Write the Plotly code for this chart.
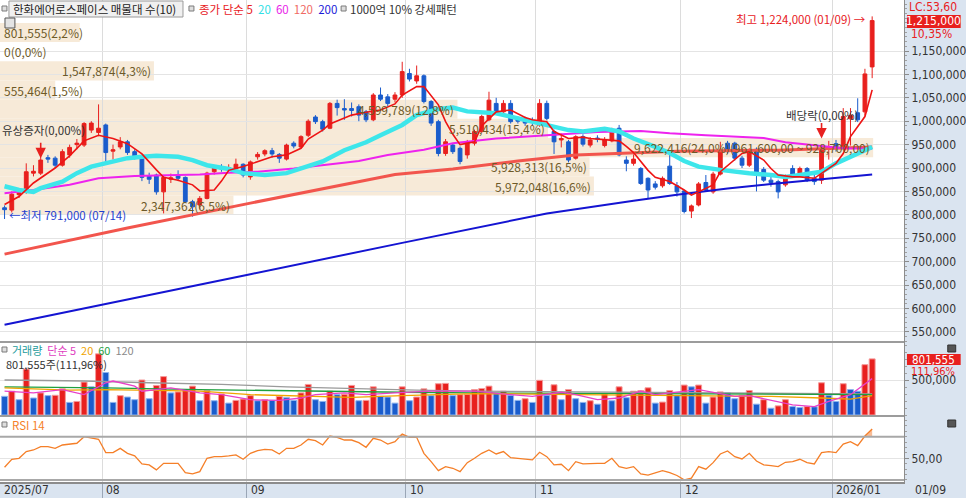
import plotly.graph_objects as go

# daily candles, index 0 = 2025/07/14 ... index 120 = 2026/01/09 (prices in thousand won)
opens = [815, 810, 843, 849, 889, 889, 922, 921, 906, 928,
         950, 949, 981, 976, 992, 936, 945, 956, 935, 924,
         883, 885, 849, 876, 885, 880, 828, 821, 835, 892,
         903, 897, 899, 908, 881, 924, 930, 937, 929, 919,
         953, 945, 970, 1009, 999, 985, 1038, 1027, 1027, 1031,
         1020, 1003, 1056, 1052, 1047, 1056, 1102, 1086, 1097, 1042,
         999, 931, 949, 942, 928, 953, 978, 1003, 1038, 1020,
         1038, 1006, 1006, 1001, 992, 1038, 978, 960, 956, 921,
         967, 949, 964, 948, 958, 985, 917, 910, 899, 878,
         866, 862, 904, 862, 851, 808, 821, 869, 849, 887,
         953, 953, 921, 906, 940, 897, 874, 871, 864, 899,
         889, 899, 878, 874, 940, 952, 945, 1005, 1018, 1020,
         1116]
highs = [820, 850, 853, 910, 906, 925, 928, 925, 940, 950,
         962, 998, 1000, 1036, 995, 950, 966, 960, 940, 928,
         890, 888, 885, 888, 895, 882, 832, 840, 892, 905,
         908, 908, 920, 910, 916, 934, 940, 943, 932, 952,
         957, 970, 1004, 1013, 1003, 1041, 1046, 1047, 1040, 1036,
         1024, 1060, 1072, 1058, 1062, 1127, 1112, 1119, 1100, 1045,
         1003, 962, 953, 946, 960, 982, 1014, 1063, 1050, 1045,
         1045, 1010, 1010, 1008, 1047, 1044, 982, 974, 960, 970,
         972, 966, 970, 966, 986, 992, 925, 929, 902, 880,
         872, 882, 931, 870, 853, 822, 870, 885, 892, 956,
         958, 956, 926, 942, 944, 902, 885, 875, 886, 906,
         903, 902, 888, 948, 958, 960, 1028, 1028, 1049, 1112,
         1224]
lows = [791, 805, 836, 845, 882, 885, 911, 900, 903, 922,
        940, 945, 975, 968, 908, 918, 940, 928, 918, 872,
        866, 843, 803, 868, 872, 825, 796, 812, 833, 886,
        892, 890, 895, 880, 875, 918, 925, 922, 911, 916,
        942, 942, 966, 994, 978, 983, 1012, 1003, 1010, 1000,
        998, 1000, 1043, 1032, 1040, 1050, 1085, 1080, 1038, 990,
        925, 926, 930, 908, 920, 948, 975, 1000, 1015, 1016,
        995, 995, 990, 990, 988, 1002, 930, 944, 912, 918,
        946, 944, 955, 944, 955, 925, 893, 905, 864, 835,
        854, 858, 864, 839, 803, 793, 818, 850, 845, 884,
        930, 916, 900, 902, 850, 870, 860, 835, 860, 880,
        885, 870, 864, 866, 918, 935, 942, 948, 998, 1012,
        1092]
closes = [811, 844, 847, 892, 893, 917, 919, 906, 935, 944,
          953, 995, 996, 985, 933, 939, 956, 933, 924, 880,
          876, 849, 880, 879, 878, 828, 817, 835, 889, 901,
          898, 901, 908, 885, 913, 929, 937, 930, 921, 949,
          947, 967, 1000, 999, 983, 1038, 1029, 1024, 1023, 1013,
          1003, 1056, 1047, 1038, 1056, 1106, 1090, 1097, 1042, 996,
          931, 956, 935, 914, 956, 978, 1010, 1045, 1020, 1038,
          999, 1000, 996, 999, 1038, 1006, 956, 963, 917, 967,
          951, 960, 962, 960, 981, 928, 910, 919, 867, 853,
          859, 878, 867, 849, 807, 819, 866, 853, 887, 935,
          935, 921, 906, 939, 889, 874, 869, 849, 882, 883,
          899, 874, 871, 942, 945, 943, 1010, 1012, 1003, 1101,
          1215]
# volume, thousand shares
volumes = [267, 340, 219, 656, 243, 316, 277, 282, 374, 180,
           194, 471, 403, 874, 607, 180, 277, 257, 219, 500,
           233, 423, 549, 316, 330, 364, 413, 204, 350, 204,
           301, 170, 209, 228, 277, 204, 219, 209, 267, 248,
           209, 316, 437, 219, 194, 340, 291, 296, 423, 204,
           209, 403, 267, 257, 170, 403, 204, 257, 374, 277,
           447, 452, 277, 291, 294, 364, 379, 413, 306, 340,
           282, 209, 233, 180, 496, 282, 432, 219, 364, 233,
           180, 204, 155, 301, 204, 403, 248, 340, 350, 389,
           170, 185, 350, 277, 428, 403, 428, 170, 257, 330,
           316, 233, 282, 350, 155, 219, 97, 131, 219, 121,
           107, 121, 118, 461, 282, 194, 447, 364, 340, 719,
           801.555]
rsi14 = [41.7, 49.1, 50.0, 56.2, 57.7, 60.8, 60.8, 59.2, 62.3, 63.2,
         63.9, 70.0, 68.5, 67.6, 55.3, 55.3, 59.2, 54.6, 52.2, 44.8,
         43.9, 39.3, 45.4, 45.4, 45.4, 36.8, 35.6, 37.7, 50.0, 51.5,
         51.5, 52.2, 53.1, 49.1, 54.6, 57.1, 58.3, 57.7, 54.0, 59.2,
         59.2, 62.3, 67.6, 66.3, 62.3, 70.6, 69.4, 66.9, 66.9, 64.5,
         60.2, 68.5, 66.9, 63.2, 65.4, 72.5, 69.4, 69.4, 54.6, 46.9,
         38.6, 42.3, 40.8, 37.7, 46.0, 50.0, 54.6, 57.7, 54.0, 56.2,
         50.6, 50.0, 49.1, 48.5, 55.6, 51.5, 43.9, 44.5, 38.6, 46.9,
         44.8, 45.4, 45.4, 45.4, 50.0, 42.3, 40.8, 42.3, 35.6, 34.4,
         36.2, 38.6, 36.8, 34.1, 30.1, 31.6, 42.3, 39.9, 46.0, 54.0,
         56.8, 51.5, 49.4, 54.6, 47.5, 43.9, 43.3, 42.3, 46.3, 46.9,
         49.1, 46.0, 44.8, 55.3, 56.2, 55.3, 63.2, 65.4, 61.7, 70.6,
         77.1]

# moving averages (index, thousand won)
ma5_x = [0, 1, 2, 4, 7, 9, 11, 13, 15, 17, 19, 21, 22, 24, 26, 27, 29, 30, 31, 33,
         35, 37, 39, 41, 42, 44, 45, 48, 50, 52, 54, 55, 57, 58, 60, 61, 62, 63, 65, 66,
         68, 70, 72, 73, 75, 76, 78, 80, 81, 83, 85, 86, 87, 89, 90, 92, 94, 95, 96, 98,
         99, 101, 102, 103, 105, 106, 107, 109, 110, 112, 113, 115, 116, 117, 119, 120]
ma5_y = [822, 830, 839, 868, 900, 926, 958, 970, 963, 952, 930, 896, 880, 874, 864, 851, 853, 872, 895, 903,
         914, 924, 928, 942, 962, 981, 994, 1013, 1019, 1024, 1037, 1056, 1074, 1074, 1035, 999, 972, 950, 956, 990,
         1020, 1024, 1008, 1003, 999, 978, 963, 966, 963, 960, 958, 946, 933, 895, 880, 871, 853, 842, 849, 864,
         892, 917, 931, 935, 917, 899, 885, 881, 881, 878, 889, 910, 931, 967, 1010, 1067]
ma20_x = [0, 2, 4, 5, 8, 10, 12, 15, 17, 19, 21, 24, 26, 28, 31, 33, 36, 39, 41, 44,
          47, 50, 52, 55, 57, 60, 62, 64, 68, 73, 75, 78, 80, 83, 85, 87, 90, 92, 94, 96,
          99, 101, 103, 106, 108, 110, 113, 115, 117, 120]
ma20_y = [861, 853, 849, 857, 871, 889, 903, 914, 921, 924, 926, 924, 917, 906, 898, 889, 885, 889, 899, 914,
          938, 955, 970, 992, 1013, 1026, 1029, 1021, 1017, 999, 992, 981, 978, 984, 978, 963, 945, 932, 915, 903,
          896, 892, 889, 885, 881, 885, 892, 910, 924, 945]
ma60_x = [0, 4, 9, 13, 18, 22, 27, 31, 35, 40, 44, 49, 53, 58, 62, 68, 75, 82, 88, 92,
          97, 101, 105, 108, 112, 116, 120]
ma60_y = [846, 853, 864, 878, 883, 885, 886, 890, 892, 899, 906, 915, 928, 939, 953, 963, 970, 977, 979, 974,
          970, 967, 964, 955, 948, 942, 941]
ma120_x = [0, 17, 34, 44, 54, 62, 71, 79, 93, 107, 120]
ma120_y = [716, 772, 825, 855, 886, 898, 915, 928, 936, 938, 945]
ma200_x = [0, 14, 34, 55, 75, 87, 93, 100, 106, 120]
ma200_y = [565, 610, 673, 740, 803, 830, 843, 856, 866, 886]

# volume moving averages (index, thousand shares)
vma5_x = [0, 4, 8, 11, 14, 15, 18, 19, 21, 23, 27, 30, 34, 38, 41, 43, 47, 50, 54, 59,
          63, 65, 70, 73, 77, 79, 82, 85, 88, 90, 96, 98, 101, 103, 107, 109, 112, 114, 117, 120]
vma5_y = [340, 316, 364, 291, 461, 486, 413, 340, 364, 389, 316, 291, 219, 209, 243, 291, 316, 291, 316, 340,
          340, 340, 291, 267, 325, 291, 219, 243, 340, 291, 364, 325, 267, 277, 194, 146, 121, 194, 291, 520]
vma20_x = [0, 9, 14, 27, 34, 41, 48, 55, 65, 79, 90, 106, 113, 117, 120]
vma20_y = [389, 355, 364, 340, 291, 267, 253, 277, 306, 291, 280, 265, 243, 228, 277]
vma60_x = [0, 14, 27, 41, 55, 65, 93, 120]
vma60_y = [403, 389, 364, 340, 325, 316, 301, 291]
vma120_x = [0, 11, 20, 30, 39, 48, 57, 65, 88, 120]
vma120_y = [500, 486, 461, 437, 403, 374, 355, 340, 325, 300]

# volume profile (매물대), top band first
band_mid = [1189.5, 1148.5, 1107.5, 1066.5, 1025.5, 984.5, 943.5, 902.5, 861.5, 820.5]
band_vol = [801555, 0, 1547874, 555464, 4599789, 5510434, 9622416, 5928313, 5972048, 2347362]
band_pct = [2.2, 0.0, 4.3, 1.5, 12.8, 15.4, 24.0, 16.5, 16.6, 6.5]
band_top_range = "(961,600.00 ~ 928,700.00)"

month_labels = ["2025/07", "08", "09", "10", "11", "12", "2026/01"]
month_start = [0, 14, 34, 56, 74, 94, 115]

K = 1000
n = len(closes)
x = list(range(n))

W, H = 966, 498
MR, MB = 57, 16
PW, PH = W - MR, H - MB


def fx(px):
    return px / PW


def fy(py):
    return 1 - py / PH


UP, DOWN = "#e8201e", "#1a5ccc"
KR = "Noto Sans CJK KR"
NUM = "Liberation Sans Narrow, DejaVu Sans Condensed, sans-serif"
SLOT = 7.27  # pixels per candle
XMIN, XMAX = -0.63, -0.63 + PW / SLOT

fig = go.Figure()

# price moving averages (under the candles)
for xs, ys, col, w in [(ma200_x, ma200_y, "#1414d2", 2),
                       (ma120_x, ma120_y, "#f2554d", 3),
                       (ma60_x, ma60_y, "#ee22ee", 2),
                       (ma20_x, ma20_y, "#3de6ea", 4.5),
                       (ma5_x, ma5_y, "#ee1414", 1.6)]:
    fig.add_trace(go.Scatter(x=xs, y=[v * K for v in ys], mode="lines",
                             line=dict(color=col, width=w), hoverinfo="skip"))

fig.add_trace(go.Candlestick(
    x=x, open=[v * K for v in opens], high=[v * K for v in highs],
    low=[v * K for v in lows], close=[v * K for v in closes],
    increasing=dict(line=dict(color=UP, width=1), fillcolor=UP),
    decreasing=dict(line=dict(color=DOWN, width=1), fillcolor=DOWN),
    whiskerwidth=0, hoverinfo="skip"))

# volume bars, red when volume rose against the day before
vcol = [DOWN] + [UP if volumes[i] >= volumes[i - 1] else DOWN for i in range(1, n)]
vedge = ["#f59a9a" if c == UP else "#8fb4ee" for c in vcol]
fig.add_trace(go.Bar(x=x, y=[v * K for v in volumes], marker=dict(color=vcol, line=dict(color=vedge, width=1)),
                     width=0.82, xaxis="x2", yaxis="y2", hoverinfo="skip"))
for xs, ys, col in [(vma120_x, vma120_y, "#9a9a9a"), (vma60_x, vma60_y, "#1fa040"),
                    (vma20_x, vma20_y, "#f0a400"), (vma5_x, vma5_y, "#e840c8")]:
    fig.add_trace(go.Scatter(x=xs, y=[v * K for v in ys], mode="lines", line=dict(color=col, width=1.3),
                             xaxis="x2", yaxis="y2", hoverinfo="skip"))

# RSI with shading above 70
fig.add_trace(go.Scatter(x=x, y=[70] * n, mode="lines", line=dict(width=0), xaxis="x3", yaxis="y3",
                         hoverinfo="skip"))
fig.add_trace(go.Scatter(x=x, y=[max(v, 70) for v in rsi14], mode="lines", line=dict(width=0),
                         fill="tonexty", fillcolor="rgba(245,165,115,0.75)", xaxis="x3", yaxis="y3",
                         hoverinfo="skip"))
fig.add_trace(go.Scatter(x=x, y=rsi14, mode="lines", line=dict(color="#f57f28", width=1.3),
                         xaxis="x3", yaxis="y3", hoverinfo="skip"))

shapes = []
ann = []


def note(xv, yv, text, xref="paper", yref="paper", xanchor="left", color="#333333", family=KR, size=12, **kw):
    ann.append(dict(x=xv, y=yv, xref=xref, yref=yref, text=text, showarrow=False, xanchor=xanchor,
                    yanchor="middle", font=dict(family=family, size=size, color=color), **kw))


# volume profile bands
for mid, vol, pct in zip(band_mid, band_vol, band_pct):
    wpx = min(vol / 10000, 878)
    x1 = XMIN + wpx / SLOT
    if vol > 0:
        shapes.append(dict(type="rect", xref="x", yref="y", x0=XMIN, x1=x1, y0=(mid - 20.5) * K,
                           y1=(mid + 20.5) * K, fillcolor="#f7ead8", line=dict(width=0), layer="below"))
    txt = f"{vol:,}({pct:.1f}%)".replace(".", ",")
    if pct == max(band_pct):
        txt += band_top_range.replace(".", ",")
    if wpx >= len(txt) * 6.4:
        note(x1, mid * K, txt, "x", "y", "right", "#6e5a28", xshift=-1)
    else:
        note(XMIN, mid * K, txt, "x", "y", "left", "#6e5a28", xshift=2)

# high / low markers
note(119.4, highs[-1] * K, "최고 1,224,000 (01/09) →", "x", "y", "right", "#e8201e", size=11.5, yshift=-3)
note(0.4, lows[0] * K, "←최저 791,000 (07/14)", "x", "y", "left", "#1f3fd0", size=11.5, yshift=4)
# events: corporate action labels with arrows
note(XMIN, 981 * K, "유상증자(0,00%)", "x", "y", "left", size=11.5)
note(113, 1013 * K, "배당락(0,00%)", "x", "y", "center", size=11.5)
for idx, tip in [(5, 921), (113, 963)]:
    ann.append(dict(x=idx, y=tip * K, xref="x", yref="y", text="", showarrow=True, ax=0, ay=-17,
                    arrowcolor="#e8201e", arrowhead=2, arrowsize=1.3, arrowwidth=1.6))


# legends
def icon(px, py):
    shapes.append(dict(type="rect", xref="paper", yref="paper", x0=fx(px), x1=fx(px + 5), y0=fy(py + 5),
                       y1=fy(py), fillcolor="#dedede", line=dict(color="#7a7a7a", width=1)))


icon(2, 6)
shapes.append(dict(type="rect", xref="paper", yref="paper", x0=fx(9), x1=fx(184), y0=fy(17), y1=fy(1),
                   fillcolor="#f0f0f0", line=dict(color="#9a9a9a", width=1)))
note(fx(11), fy(9), "한화에어로스페이스 매물대 수(10)", color="#222222", size=11.5)
icon(190, 6)
sp = "\u00a0"
note(fx(198), fy(9),
     (f"<span style='color:#e8201e'>종가 단순 5</span>{sp * 2}<span style='color:#2ee0e6'>20</span>"
      f"{sp * 2}<span style='color:#e81ee8'>60</span>{sp * 2}<span style='color:#f06a64'>120</span>"
      f"{sp * 2}<span style='color:#1a1ad8'>200</span>"), size=11.5)
icon(343, 6)
note(fx(350), fy(9), "1000억 10% 강세패턴", size=11.5)
shapes.append(dict(type="rect", xref="paper", yref="paper", x0=fx(5), x1=fx(15), y0=fy(28), y1=fy(18),
                   fillcolor="#e4e4e4", line=dict(color="#555555", width=1)))

icon(2, 347)
note(fx(10), fy(349.5),
     (f"<span style='color:#1e9c9c'>거래량</span>{sp * 2}<span style='color:#e040c0'>단순 5</span>"
      f"{sp * 2}<span style='color:#f0a400'>20</span>{sp * 2}<span style='color:#1fa040'>60</span>"
      f"{sp * 2}<span style='color:#8a8a8a'>120</span>"), size=11)
note(fx(4), fy(364), f"{volumes[-1] * K:,.0f}주(111,96%)", size=11)
icon(2, 422)
note(fx(10), fy(425), "RSI 14", color="#f57f28", size=11.5)

# right side value boxes
note(fx(912), fy(7), "LC:53,60", color="#e8201e", family=NUM)
shapes.append(dict(type="rect", xref="paper", yref="paper", x0=fx(912), x1=fx(966), y0=fy(28), y1=fy(15),
                   fillcolor="#e8201e", line=dict(width=0)))
note(fx(939), fy(21.5), f"{closes[-1] * K:,}", xanchor="center", color="white", family=NUM)
note(fx(914), fy(34), "10,35%", color="#e8201e", family=NUM)
shapes.append(dict(type="rect", xref="paper", yref="paper", x0=fx(912), x1=fx(966), y0=fy(365), y1=fy(354),
                   fillcolor="#e8201e", line=dict(width=0)))
note(fx(939), fy(359.5), f"{volumes[-1] * K:,.0f}", xanchor="center", color="white", family=NUM, size=11.5)
note(fx(914), fy(371), "111,96%", color="#e8201e", family=NUM, size=11)
for py in (345, 420):
    shapes.append(dict(type="rect", xref="paper", yref="paper", x0=fx(953), x1=fx(961), y0=fy(py + 7),
                       y1=fy(py), fillcolor="#555555", line=dict(color="#333333", width=1)))

# pane separators and RSI guide lines
for py in (342, 416):
    shapes.append(dict(type="line", xref="paper", yref="paper", x0=0, x1=1, y0=fy(py), y1=fy(py),
                       line=dict(color="#9c9c9c", width=2)))
for lvl in (70, 30):
    shapes.append(dict(type="line", xref="paper", yref="y3", x0=0, x1=1, y0=lvl, y1=lvl,
                       line=dict(color="#a8a8a8", width=2)))

# month labels on the bottom strip
for lab, st in zip(month_labels, month_start):
    xpos = XMIN if st == 0 else st - 0.5
    note(xpos, fy(490), lab, "x3", "paper", "left", family=NUM, xshift=2)
note(fx(918), fy(490), "01/09", family=NUM)

grid_x = [s - 0.5 for s in month_start[1:]]
xcommon = dict(range=[XMIN, XMAX], tickvals=grid_x, showticklabels=False, showgrid=True,
               gridcolor="#dcdcdc", zeroline=False, fixedrange=True)
ycommon = dict(side="right", showline=True, linecolor="#8c8c8c", linewidth=1, ticks="outside", ticklen=4,
               tickcolor="#8c8c8c", gridcolor="#e4e4e4", zeroline=False, fixedrange=True,
               tickfont=dict(family=NUM, size=12, color="#333333"))

D_PRICE = fy(342)
D_VOL = fy(416)

fig.update_layout(
    width=W, height=H, margin=dict(l=0, r=MR, t=0, b=MB),
    paper_bgcolor="#dae4f0", plot_bgcolor="white", showlegend=False,
    boxgap=0.25, bargap=0.18,
    xaxis=dict(xcommon, anchor="y", domain=[0, 1], rangeslider=dict(visible=False)),
    xaxis2=dict(xcommon, anchor="y2", matches="x"),
    xaxis3=dict(xcommon, anchor="y3", matches="x", ticks="outside", ticklen=16, tickcolor="#9aa6b6",
                showline=True, linecolor="#8c8c8c", linewidth=2),
    yaxis=dict(ycommon, domain=[D_PRICE, 1], anchor="x", range=[528200, 1259000],
               tickvals=list(range(550000, 1150001, 50000)), tickformat=",",
               minor=dict(ticks="outside", ticklen=2, dtick=10000, tickcolor="#a0a0a0", showgrid=False)),
    yaxis2=dict(ycommon, domain=[D_VOL, D_PRICE], anchor="x2", range=[-14000, 1043000],
                tickvals=[500000], ticktext=["500,000"],
                minor=dict(ticks="outside", ticklen=2, dtick=100000, tickcolor="#a0a0a0", showgrid=False)),
    yaxis3=dict(ycommon, domain=[0, D_VOL], anchor="x3", range=[28.1, 89.1],
                tickvals=[50], ticktext=["50,00"],
                minor=dict(ticks="outside", ticklen=2, dtick=5, tickcolor="#a0a0a0", showgrid=False)),
    shapes=shapes, annotations=ann,
)

fig.write_html("out.html", config={"displayModeBar": False},
               post_script="document.body.style.margin='0';document.body.style.overflow='hidden';")
